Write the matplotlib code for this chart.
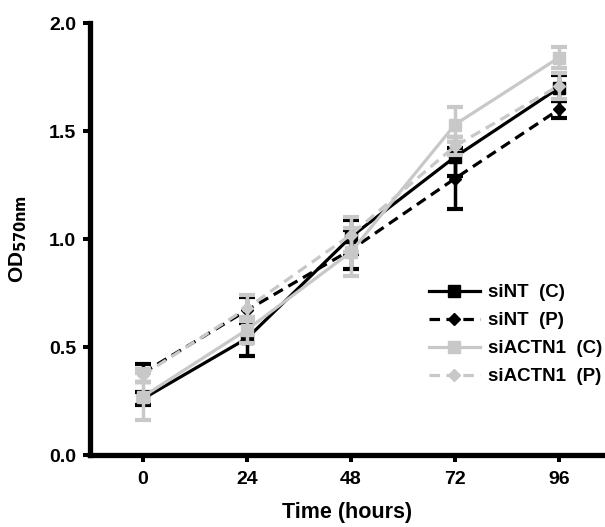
import numpy as np
import matplotlib
matplotlib.use("Agg")
import matplotlib.pyplot as plt

plt.rcParams['font.family'] = ['Liberation Sans', 'DejaVu Sans']
plt.rcParams['font.weight'] = 'bold'
plt.rcParams['mathtext.default'] = 'bf'

hours = [0, 24, 48, 72, 96]

sint_c = [0.26, 0.54, 1.01, 1.38, 1.70]
sint_c_err = [0.03, 0.08, 0.08, 0.09, 0.06]

sint_p = [0.38, 0.67, 0.95, 1.28, 1.60]
sint_p_err = [0.04, 0.06, 0.09, 0.14, 0.04]

siactn1_c = [0.27, 0.58, 0.94, 1.53, 1.84]
siactn1_c_err = [0.11, 0.06, 0.11, 0.08, 0.05]

siactn1_p = [0.37, 0.68, 1.02, 1.43, 1.71]
siactn1_p_err = [0.03, 0.06, 0.08, 0.04, 0.06]

labels = ['siNT  (C)', 'siNT  (P)', 'siACTN1  (C)', 'siACTN1  (P)']

gray = '#c8c8c8'

fig = plt.figure(figsize=(6.05, 5.27), dpi=100)
ax = fig.add_axes([90/605, 1-455/527, 1-90/605, 432/527])

series = [
    (sint_c, sint_c_err, 'k', '-', 's', 9),
    (sint_p, sint_p_err, 'k', '--', 'D', 6.5),
    (siactn1_c, siactn1_c_err, gray, '-', 's', 9),
    (siactn1_p, siactn1_p_err, gray, '--', 'D', 6.5),
]

for (y, e, c, ls, m, ms), lab in zip(series, labels):
    ax.errorbar(hours, y, yerr=e, fmt='none', ecolor=c, elinewidth=2.5,
                capsize=5.8, capthick=3)
    line, = ax.plot(hours, y, color=c, linestyle=ls, marker=m, markersize=ms,
                    linewidth=2.3, label=lab)
    if ls == '--':
        line.set_dashes((3.3, 2))

ax.set_xlim(-12.2, 106.6)
ax.set_ylim(0, 2.0)
ax.set_xticks(hours)
ax.set_yticks([0.0, 0.5, 1.0, 1.5, 2.0])
ax.set_yticklabels(['0.0', '0.5', '1.0', '1.5', '2.0'])

for s in ['top', 'right']:
    ax.spines[s].set_visible(False)
ax.spines['left'].set_linewidth(3.8)
ax.spines['bottom'].set_linewidth(3.8)
ax.tick_params(direction='out', length=5, width=2.9, labelsize=14)
ax.tick_params(axis='x', pad=6.5)
ax.tick_params(axis='y', pad=5)
for t in ax.get_xticklabels() + ax.get_yticklabels():
    t.set_fontweight('bold')

ax.set_xlabel('Time (hours)', fontsize=15.5, fontweight='bold', labelpad=10)
ax.set_ylabel(r'OD$_{570nm}$', fontsize=15, fontweight='bold', labelpad=14)

leg = ax.legend(loc='upper left', bbox_to_anchor=(429/605, 1-284/527),
                bbox_transform=fig.transFigure, frameon=False, borderpad=0,
                borderaxespad=0, fontsize=13.5, handlelength=2.7,
                labelspacing=0.58, handletextpad=0.45)
for t in leg.get_texts():
    t.set_fontweight('bold')

plt.savefig('out.png', dpi=100)
